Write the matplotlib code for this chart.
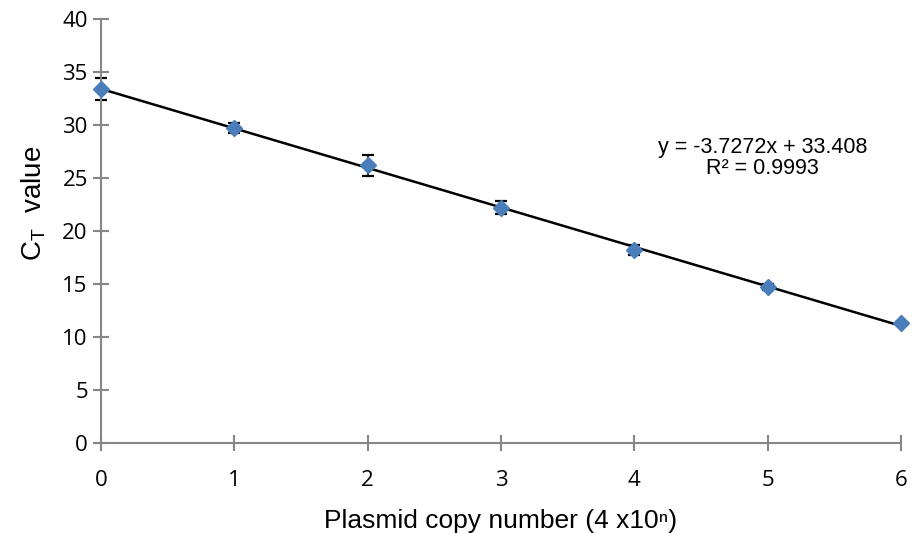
import matplotlib
matplotlib.use("Agg")
import matplotlib.pyplot as plt
import numpy as np

x = [0, 1, 2, 3, 4, 5, 6]
ct = [33.4, 29.7, 26.2, 22.2, 18.2, 14.7, 11.3]
err = [1.0, 0.5, 1.0, 0.6, 0.5, 0.3, 0.1]
slope, intercept = -3.7272, 33.408
xticks = [0, 1, 2, 3, 4, 5, 6]
yticks = [0, 5, 10, 15, 20, 25, 30, 35, 40]

fig = plt.figure(figsize=(9.15, 5.33), dpi=100)
ax = fig.add_axes([101/915, (533-443)/533, 800/915, (443-19)/533])

xs = np.array([0, 6])
ax.plot(xs, slope*xs + intercept, color='black', lw=1.8, zorder=3, clip_on=False)
ax.errorbar(x, ct, yerr=err, fmt='none', ecolor='black', elinewidth=1.2, capsize=4.5,
            capthick=1.6, zorder=2, clip_on=False)
ax.plot(x, ct, linestyle='none', marker='D', markersize=8, color='#4a7ebb', zorder=4,
        clip_on=False)

ax.set_xlim(0, 6)
ax.set_ylim(0, 40)
ax.set_xticks(xticks)
ax.set_yticks(yticks)
for s in ['top', 'right']:
    ax.spines[s].set_visible(False)
for s in ['left', 'bottom']:
    ax.spines[s].set_color('#868686')
    ax.spines[s].set_linewidth(1.5)
ax.tick_params(direction='inout', length=11, width=1.5, color='#868686',
               labelsize=16, pad=4)
for lab in ax.get_xticklabels() + ax.get_yticklabels():
    lab.set_fontfamily('Open Sans')
ax.tick_params(axis='x', pad=14)

ax.set_xlabel('Plasmid copy number (4 x10ⁿ)', fontsize=19, family='Liberation Sans', labelpad=13)
ax.set_ylabel(r'C$_\mathregular{T}$  value', fontsize=20, family='Liberation Sans')
ax.yaxis.set_label_coords(-0.066, 0.565)
ax.text(4.96, 26.9, 'y = -3.7272x + 33.408\nR² = 0.9993', ha='center', va='center',
        fontsize=15.5, family='Liberation Sans', linespacing=1.0)
fig.savefig('out.png', dpi=100)
